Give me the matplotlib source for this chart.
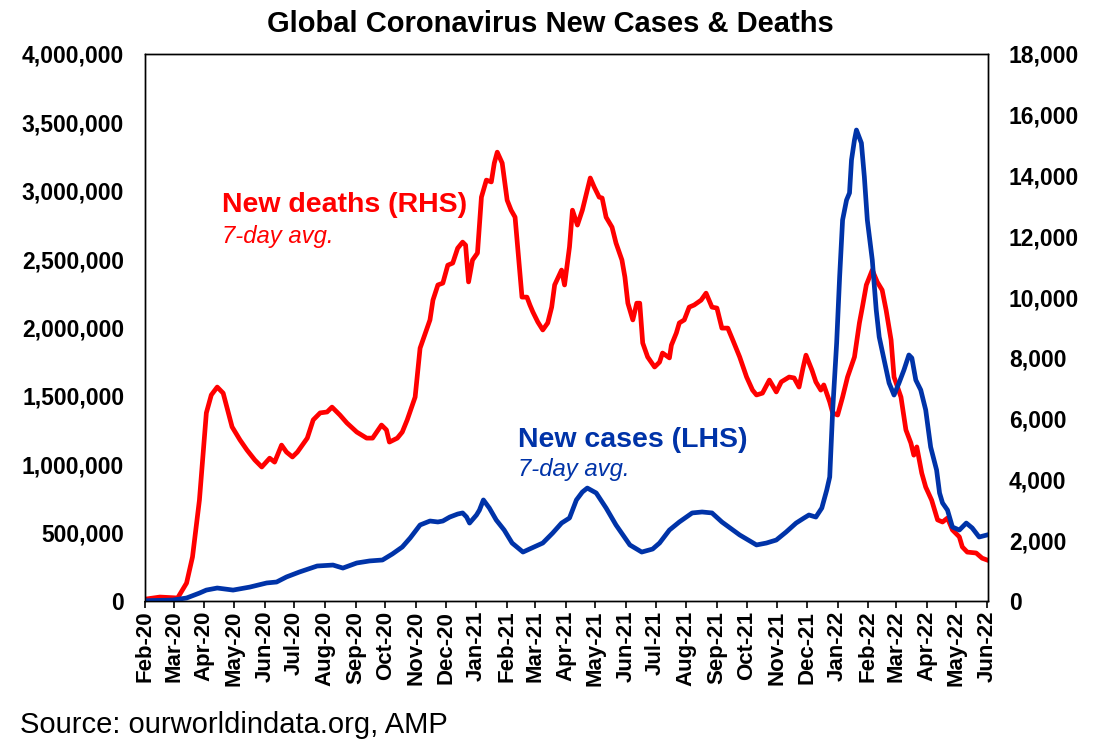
import numpy as np
import pandas as pd
import matplotlib
matplotlib.use("Agg")
import matplotlib.pyplot as plt
import matplotlib.dates as mdates
from matplotlib.ticker import FuncFormatter, MultipleLocator

plt.rcParams['font.family'] = ['Liberation Sans', 'DejaVu Sans']

RED = '#FF0000'
BLUE = '#0033A8'

# new deaths, 7-day avg (right axis)
death_dates = [
    "2020-02-01", "2020-02-16", "2020-03-05", "2020-03-14", "2020-03-20", "2020-03-27",
    "2020-04-03", "2020-04-08", "2020-04-14", "2020-04-20", "2020-04-29", "2020-05-07",
    "2020-05-14", "2020-05-22", "2020-05-29", "2020-06-06", "2020-06-11", "2020-06-18",
    "2020-06-23", "2020-06-29", "2020-07-04", "2020-07-14", "2020-07-20", "2020-07-27",
    "2020-08-03", "2020-08-08", "2020-08-16", "2020-08-23", "2020-09-02", "2020-09-12",
    "2020-09-18", "2020-09-27", "2020-10-02", "2020-10-05", "2020-10-13", "2020-10-18",
    "2020-10-23", "2020-10-31", "2020-11-05", "2020-11-15", "2020-11-18", "2020-11-23",
    "2020-11-28", "2020-12-03", "2020-12-08", "2020-12-13", "2020-12-18", "2020-12-21",
    "2020-12-24", "2020-12-28", "2021-01-02", "2021-01-06", "2021-01-11", "2021-01-16",
    "2021-01-19", "2021-01-22", "2021-01-27", "2021-02-01", "2021-02-05", "2021-02-09",
    "2021-02-11", "2021-02-16", "2021-02-21", "2021-02-24", "2021-02-27", "2021-03-04",
    "2021-03-09", "2021-03-14", "2021-03-18", "2021-03-21", "2021-03-28", "2021-03-31",
    "2021-04-05", "2021-04-08", "2021-04-13", "2021-04-18", "2021-04-23", "2021-04-26",
    "2021-04-30", "2021-05-05", "2021-05-08", "2021-05-12", "2021-05-18", "2021-05-22",
    "2021-05-28", "2021-05-31", "2021-06-03", "2021-06-08", "2021-06-12", "2021-06-15",
    "2021-06-18", "2021-06-23", "2021-06-30", "2021-07-05", "2021-07-08", "2021-07-15",
    "2021-07-17", "2021-07-22", "2021-07-25", "2021-07-30", "2021-08-04", "2021-08-09",
    "2021-08-16", "2021-08-21", "2021-08-27", "2021-09-01", "2021-09-06", "2021-09-12",
    "2021-09-17", "2021-09-24", "2021-10-01", "2021-10-07", "2021-10-11", "2021-10-17",
    "2021-10-24", "2021-10-31", "2021-11-05", "2021-11-13", "2021-11-18", "2021-11-23",
    "2021-11-27", "2021-11-30", "2021-12-06", "2021-12-10", "2021-12-15", "2021-12-18",
    "2021-12-24", "2021-12-27", "2022-01-01", "2022-01-06", "2022-01-11", "2022-01-18",
    "2022-01-23", "2022-01-26", "2022-01-30", "2022-02-05", "2022-02-10", "2022-02-15",
    "2022-02-19", "2022-02-24", "2022-02-27", "2022-03-06", "2022-03-11", "2022-03-16",
    "2022-03-19", "2022-03-22", "2022-03-27", "2022-03-31", "2022-04-06", "2022-04-12",
    "2022-04-17", "2022-04-22", "2022-04-27", "2022-05-04", "2022-05-07", "2022-05-12",
    "2022-05-21", "2022-05-27", "2022-06-01",
]
death_vals = [
    60, 130, 100, 590, 1450, 3320,
    6190, 6780, 7040, 6840, 5730, 5300,
    4970, 4640, 4410, 4700, 4570, 5130,
    4900, 4740, 4900, 5360, 5960, 6190,
    6220, 6380, 6120, 5860, 5560, 5360,
    5360, 5790, 5630, 5230, 5360, 5560,
    5960, 6710, 8320, 9250, 9900, 10400,
    10460, 11050, 11120, 11610, 11810, 11710,
    10500, 11220, 11450, 13290, 13850, 13790,
    14410, 14770, 14410, 13190, 12860, 12630,
    11880, 10000, 10000, 9740, 9510, 9180,
    8920, 9150, 9670, 10400, 10890, 10400,
    11650, 12860, 12370, 12860, 13520, 13920,
    13620, 13290, 13260, 12630, 12300, 11780,
    11220, 10660, 9800, 9250, 9800, 9800,
    8490, 8030, 7700, 7860, 8160, 8000,
    8420, 8820, 9150, 9250, 9670, 9740,
    9900, 10130, 9670, 9640, 8980, 8980,
    8590, 8030, 7370, 6940, 6780, 6840,
    7270, 6880, 7210, 7370, 7340, 7040,
    7670, 8090, 7600, 7210, 6940, 7110,
    6550, 6190, 6120, 6710, 7370, 8030,
    9150, 9670, 10400, 10890, 10500, 10230,
    9570, 8590, 7370, 6710, 5630, 5200,
    4800, 5070, 4210, 3750, 3320, 2670,
    2600, 2730, 2340, 2110, 1780, 1610,
    1580, 1410, 1350,
]

# new cases, 7-day avg (left axis)
case_dates = [
    "2020-02-01", "2020-02-29", "2020-03-14", "2020-03-27", "2020-04-03", "2020-04-14",
    "2020-04-30", "2020-05-17", "2020-06-03", "2020-06-13", "2020-06-23", "2020-07-06",
    "2020-07-24", "2020-08-09", "2020-08-19", "2020-09-02", "2020-09-15", "2020-09-28",
    "2020-10-08", "2020-10-18", "2020-10-26", "2020-11-05", "2020-11-15", "2020-11-23",
    "2020-11-28", "2020-12-05", "2020-12-13", "2020-12-18", "2020-12-22", "2020-12-25",
    "2021-01-01", "2021-01-04", "2021-01-08", "2021-01-14", "2021-01-21", "2021-01-29",
    "2021-02-06", "2021-02-17", "2021-02-26", "2021-03-09", "2021-03-19", "2021-03-28",
    "2021-04-05", "2021-04-12", "2021-04-18", "2021-04-23", "2021-05-02", "2021-05-12",
    "2021-05-22", "2021-06-05", "2021-06-17", "2021-06-28", "2021-07-05", "2021-07-15",
    "2021-07-25", "2021-08-07", "2021-08-17", "2021-08-27", "2021-09-06", "2021-09-24",
    "2021-10-11", "2021-10-21", "2021-10-31", "2021-11-10", "2021-11-20", "2021-11-28",
    "2021-12-03", "2021-12-10", "2021-12-16", "2021-12-21", "2021-12-24", "2021-12-27",
    "2021-12-31", "2022-01-03", "2022-01-06", "2022-01-10", "2022-01-13", "2022-01-15",
    "2022-01-18", "2022-01-20", "2022-01-25", "2022-01-28", "2022-01-31", "2022-02-05",
    "2022-02-09", "2022-02-12", "2022-02-17", "2022-02-22", "2022-02-27", "2022-03-04",
    "2022-03-09", "2022-03-14", "2022-03-17", "2022-03-21", "2022-03-26", "2022-03-31",
    "2022-04-05", "2022-04-11", "2022-04-14", "2022-04-17", "2022-04-22", "2022-04-27",
    "2022-05-04", "2022-05-11", "2022-05-17", "2022-05-24", "2022-06-01",
]
case_vals = [
    2000, 7000, 22000, 58000, 80000, 95000,
    80000, 102000, 132000, 139000, 176000, 212000,
    256000, 263000, 241000, 278000, 293000, 300000,
    344000, 395000, 461000, 556000, 585000, 578000,
    585000, 614000, 636000, 644000, 614000, 570000,
    629000, 665000, 739000, 680000, 592000, 519000,
    424000, 358000, 388000, 424000, 497000, 570000,
    607000, 739000, 797000, 826000, 790000, 680000,
    556000, 410000, 358000, 380000, 424000, 519000,
    578000, 644000, 651000, 644000, 578000, 483000,
    410000, 424000, 446000, 505000, 570000, 607000,
    629000, 614000, 680000, 812000, 907000, 1397000,
    1887000, 2369000, 2786000, 2932000, 2984000, 3225000,
    3371000, 3444000, 3349000, 3101000, 2786000, 2494000,
    2128000, 1931000, 1762000, 1594000, 1506000, 1594000,
    1689000, 1799000, 1777000, 1616000, 1543000, 1397000,
    1126000, 958000, 790000, 717000, 665000, 541000,
    519000, 570000, 534000, 468000, 483000,
]

deaths = pd.Series(death_vals, index=pd.to_datetime(death_dates))
cases = pd.Series(case_vals, index=pd.to_datetime(case_dates))

fig = plt.figure(figsize=(10.96, 7.54), dpi=100)
ax = fig.add_axes([0.1323, 0.2029, 0.7692, 0.7255])   # deaths, RHS ticks
ax2 = ax.twinx()                                       # cases, LHS ticks (drawn on top)

ax.plot(deaths.index, deaths.values, color=RED, lw=3.4, solid_joinstyle='round')
ax2.plot(cases.index, cases.values, color=BLUE, lw=3.4, solid_joinstyle='round')

ax.set_ylim(0, 18000)
ax2.set_ylim(0, 4000000)
ax.set_xlim(pd.Timestamp("2020-02-01"), pd.Timestamp("2022-06-02"))

ax.yaxis.tick_right()
ax2.yaxis.tick_left()
ax.yaxis.set_major_locator(MultipleLocator(2000))
ax2.yaxis.set_major_locator(MultipleLocator(500000))
fmt = FuncFormatter(lambda v, p: f"{int(v):,}")
ax.yaxis.set_major_formatter(fmt)
ax2.yaxis.set_major_formatter(fmt)

ax.xaxis.set_major_locator(mdates.MonthLocator())
ax.xaxis.set_major_formatter(mdates.DateFormatter("%b-%y"))

for a in (ax, ax2):
    a.tick_params(axis='y', length=0, pad=15, labelsize=16.5)
    for lab in a.get_yticklabels():
        lab.set_fontweight('bold')
    for s in a.spines.values():
        s.set_color('black')
        s.set_linewidth(1.0)

ax.tick_params(axis='x', direction='out', length=5, width=1.2, pad=2, labelsize=16)
for lab in ax.get_xticklabels():
    lab.set_rotation(90)
    lab.set_fontweight('bold')
    lab.set_ha('center')

ax2.tick_params(axis='x', which='both', bottom=False, labelbottom=False)

fig.text(0.502, 0.968, "Global Coronavirus New Cases & Deaths", ha='center', va='center',
         fontsize=21, fontweight='bold')
fig.text(0.018, 0.038, "Source: ourworldindata.org, AMP", ha='left', va='center', fontsize=21)

ax.text(0.0913, 0.724, "New deaths (RHS)", transform=ax.transAxes, color=RED,
        fontsize=20.5, fontweight='bold', ha='left', va='center')
ax.text(0.0913, 0.666, "7-day avg.", transform=ax.transAxes, color=RED,
        fontsize=17.2, style='italic', ha='left', va='center')
ax2.text(0.4425, 0.295, "New cases (LHS)", transform=ax.transAxes, color=BLUE,
         fontsize=20.5, fontweight='bold', ha='left', va='center')
ax2.text(0.4425, 0.240, "7-day avg.", transform=ax.transAxes, color=BLUE,
         fontsize=17.2, style='italic', ha='left', va='center')

fig.savefig("out.png", dpi=100)
